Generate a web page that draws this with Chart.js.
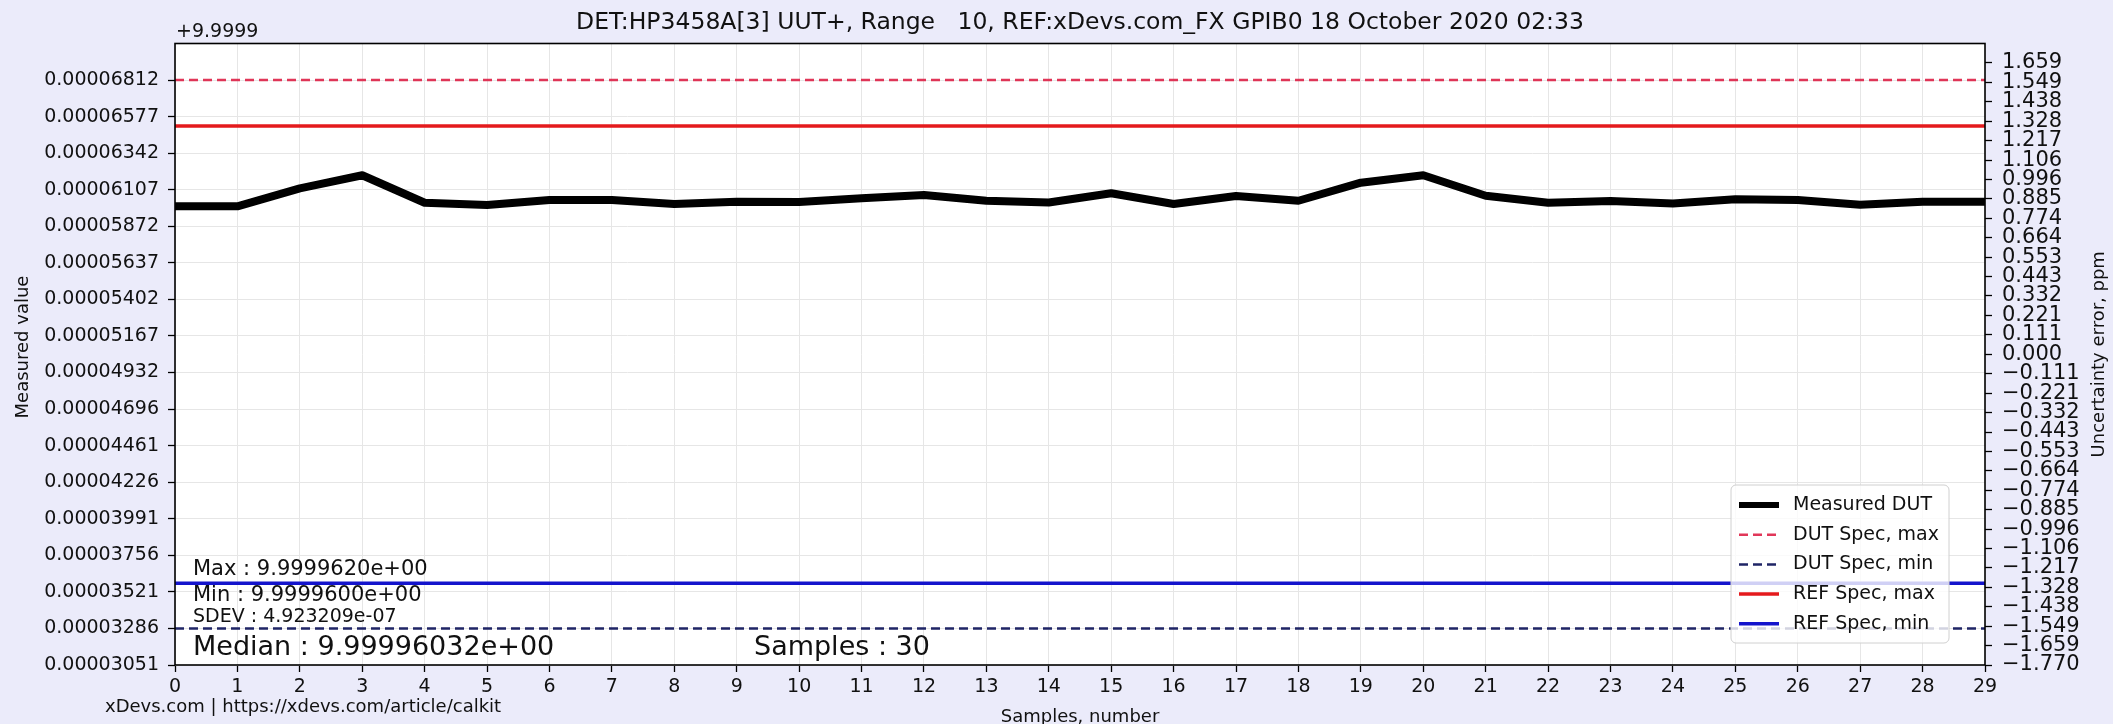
<!DOCTYPE html>
<html>
<head>
<meta charset="utf-8">
<script src="https://cdn.jsdelivr.net/npm/chart.js@4.4.0/dist/chart.umd.min.js"></script>
<style>
html,body{margin:0;padding:0;background:#ebebfa;overflow:hidden;}
canvas{display:block;}
</style>
</head>
<body>
<canvas id="c" width="2113" height="724"></canvas>
<script>
// ---------------- data ----------------
const samples = ['0','1','2','3','4','5','6','7','8','9','10','11','12','13','14','15','16','17','18','19','20','21','22','23','24','25','26','27','28','29'];
const offsetBase = 9.9999;
const measuredDUT = [9.99996000, 9.99996000, 9.99996116, 9.99996200, 9.99996023, 9.99996009, 9.99996041, 9.99996041, 9.99996015, 9.99996030,
                     9.99996028, 9.99996052, 9.99996073, 9.99996036, 9.99996025, 9.99996084, 9.99996015, 9.99996067, 9.99996036, 9.99996152,
                     9.99996200, 9.99996068, 9.99996023, 9.99996034, 9.99996019, 9.99996045, 9.99996041, 9.99996010, 9.99996030, 9.99996030];
const dutSpecMax = 9.99996812;
const dutSpecMin = 9.99993286;
const refSpecMax = 9.99996516;
const refSpecMin = 9.99993576;

const leftTicks = [0.00003051, 0.00003286, 0.00003521, 0.00003756, 0.00003991, 0.00004226, 0.00004461, 0.00004696, 0.00004932,
                   0.00005167, 0.00005402, 0.00005637, 0.00005872, 0.00006107, 0.00006342, 0.00006577, 0.00006812];
const leftMin = 0.00003051, leftMax = 0.0000704706;
const rightTicks = [-1.770,-1.659,-1.549,-1.438,-1.328,-1.217,-1.106,-0.996,-0.885,-0.774,-0.664,-0.553,-0.443,-0.332,-0.221,-0.111,
                    0.000,0.111,0.221,0.332,0.443,0.553,0.664,0.774,0.885,0.996,1.106,1.217,1.328,1.438,1.549,1.659];
const rightMin = -1.770, rightMax = 1.770;

const titleText = 'DET:HP3458A[3] UUT+, Range   10, REF:xDevs.com_FX GPIB0 18 October 2020 02:33';
const statsMax = 'Max : 9.9999620e+00';
const statsMin = 'Min : 9.9999600e+00';
const statsSdev = 'SDEV : 4.923209e-07';
const statsMedian = 'Median : 9.99996032e+00';
const statsSamples = 'Samples : 30';
const footerText = 'xDevs.com | https://xdevs.com/article/calkit';
const offsetText = '+9.9999';

// ---------------- helpers ----------------
const FONT = 'DejaVu Sans';
const rel = v => v - offsetBase;
const flat = v => samples.map(() => rel(v));
const fmtRight = v => (v < 0 ? '\u2212' : '') + Math.abs(v).toFixed(3);

const bgPlugin = {
  id: 'bg',
  beforeDraw(chart) {
    const {ctx, chartArea: a} = chart;
    ctx.save();
    ctx.fillStyle = '#ebebfa';
    ctx.fillRect(0, 0, chart.width, chart.height);
    ctx.fillStyle = '#ffffff';
    ctx.fillRect(a.left, a.top, a.right - a.left, a.bottom - a.top);
    ctx.restore();
  }
};

const overlayPlugin = {
  id: 'overlay',
  afterDatasetsDraw(chart) {
    const {ctx, chartArea: a} = chart;
    ctx.save();
    // frame
    ctx.strokeStyle = '#000';
    ctx.lineWidth = 1.6;
    ctx.strokeRect(a.left, a.top, a.right - a.left, a.bottom - a.top);
    // stats annotations
    ctx.fillStyle = '#111';
    ctx.textAlign = 'left';
    ctx.textBaseline = 'middle';
    const tx = a.left + 18;
    ctx.font = '21px "' + FONT + '"';
    ctx.fillText(statsMax, tx, 570);
    ctx.fillText(statsMin, tx, 596);
    ctx.font = '19px "' + FONT + '"';
    ctx.fillText(statsSdev, tx, 617);
    ctx.font = '27px "' + FONT + '"';
    ctx.fillText(statsMedian, tx, 648);
    ctx.fillText(statsSamples, 754, 648);
    ctx.restore();
  },
  afterDraw(chart) {
    const {ctx, chartArea: a} = chart;
    ctx.save();
    // offset text
    ctx.fillStyle = '#111';
    ctx.textBaseline = 'middle';
    ctx.textAlign = 'left';
    ctx.font = '19px "' + FONT + '"';
    ctx.fillText(offsetText, a.left + 1, 32);
    // footer
    ctx.font = '18px "' + FONT + '"';
    ctx.fillText(footerText, 105, 707);
    // left axis title
    ctx.save();
    ctx.translate(23, 347);
    ctx.rotate(-Math.PI / 2);
    ctx.textAlign = 'center';
    ctx.font = '18px "' + FONT + '"';
    ctx.fillText('Measured value', 0, 0);
    ctx.restore();
    // right axis title
    ctx.save();
    ctx.translate(2099, (a.top + a.bottom) / 2);
    ctx.rotate(-Math.PI / 2);
    ctx.textAlign = 'center';
    ctx.font = '18px "' + FONT + '"';
    ctx.fillText('Uncertainty error, ppm', 0, 0);
    ctx.restore();
    // legend
    const lx = 1731, ly = 485, lw = 218, lh = 158;
    ctx.beginPath();
    ctx.roundRect(lx, ly, lw, lh, 5);
    ctx.fillStyle = 'rgba(255,255,255,0.8)';
    ctx.fill();
    ctx.strokeStyle = '#d0d0d0';
    ctx.lineWidth = 1;
    ctx.stroke();
    chart.data.datasets.forEach((ds, i) => {
      const y = 505 + i * 29.7;
      ctx.beginPath();
      ctx.setLineDash(ds.borderDash || []);
      ctx.strokeStyle = ds.borderColor;
      ctx.lineWidth = ds.legendWidth || ds.borderWidth;
      ctx.moveTo(1739, y);
      ctx.lineTo(1779, y);
      ctx.stroke();
      ctx.setLineDash([]);
      ctx.fillStyle = '#111';
      ctx.font = '19px "' + FONT + '"';
      ctx.textAlign = 'left';
      ctx.fillText(ds.label, 1793, y);
    });
    ctx.restore();
  }
};

Chart.defaults.font.family = FONT;
Chart.defaults.color = '#111';

new Chart(document.getElementById('c'), {
  type: 'line',
  data: {
    labels: samples,
    datasets: [
      { label: 'Measured DUT', data: measuredDUT.map(rel), borderColor: '#000000', borderWidth: 8, legendWidth: 6,
        pointRadius: 0, borderJoinStyle: 'round', borderCapStyle: 'butt', tension: 0, yAxisID: 'y' },
      { label: 'DUT Spec, max', data: flat(dutSpecMax), borderColor: 'rgba(220,20,60,0.85)', borderWidth: 2.5,
        borderDash: [9, 5], pointRadius: 0, yAxisID: 'y' },
      { label: 'DUT Spec, min', data: flat(dutSpecMin), borderColor: '#1f2566', borderWidth: 2.5,
        borderDash: [9, 5], pointRadius: 0, yAxisID: 'y' },
      { label: 'REF Spec, max', data: flat(refSpecMax), borderColor: '#e41a1c', borderWidth: 3.5,
        pointRadius: 0, yAxisID: 'y' },
      { label: 'REF Spec, min', data: flat(refSpecMin), borderColor: '#1414cc', borderWidth: 3.5,
        pointRadius: 0, yAxisID: 'y' }
    ]
  },
  options: {
    responsive: false,
    animation: false,
    devicePixelRatio: 1,
    layout: { padding: { left: 0, right: -47, top: 0, bottom: 0 } },
    plugins: {
      legend: { display: false },
      tooltip: { enabled: false },
      title: {
        display: true, text: titleText, color: '#111',
        font: { size: 23.5, family: FONT, weight: 'normal', lineHeight: 1.2 },
        padding: { top: 8.9, bottom: 6.4 }
      }
    },
    scales: {
      x: {
        type: 'category',
        offset: false,
        grid: { color: '#e6e6e6', lineWidth: 1, tickColor: '#000', tickLength: 7, tickWidth: 1.3 },
        border: { display: false },
        ticks: { autoSkip: false, maxRotation: 0, minRotation: 0, padding: 4, color: '#111', font: { size: 19 } },
        title: { display: true, text: 'Samples, number', color: '#111', font: { size: 18, lineHeight: 1 }, padding: { top: 0, bottom: -2 } },
        afterFit: s => { s.height = 59; }
      },
      y: {
        type: 'linear', position: 'left',
        min: leftMin, max: leftMax,
        afterBuildTicks: s => { s.ticks = leftTicks.map(v => ({ value: v })); },
        grid: { color: '#e6e6e6', lineWidth: 1, tickColor: '#000', tickLength: 7, tickWidth: 1.3 },
        border: { display: false },
        ticks: { autoSkip: false, padding: 9, color: '#111', font: { size: 19 }, callback: v => Number(v).toFixed(8) },
        afterFit: s => { s.width = 175; }
      },
      y2: {
        type: 'linear', position: 'right',
        min: rightMin, max: rightMax,
        afterBuildTicks: s => { s.ticks = rightTicks.map(v => ({ value: v })); },
        grid: { drawOnChartArea: false, tickColor: '#000', tickLength: 7, tickWidth: 1.3 },
        border: { display: false },
        ticks: { autoSkip: false, padding: 10, color: '#111', font: { size: 21 }, callback: v => fmtRight(Number(v)) },
        afterFit: s => { s.width = 175; }
      }
    }
  },
  plugins: [bgPlugin, overlayPlugin]
});
</script>
</body>
</html>
